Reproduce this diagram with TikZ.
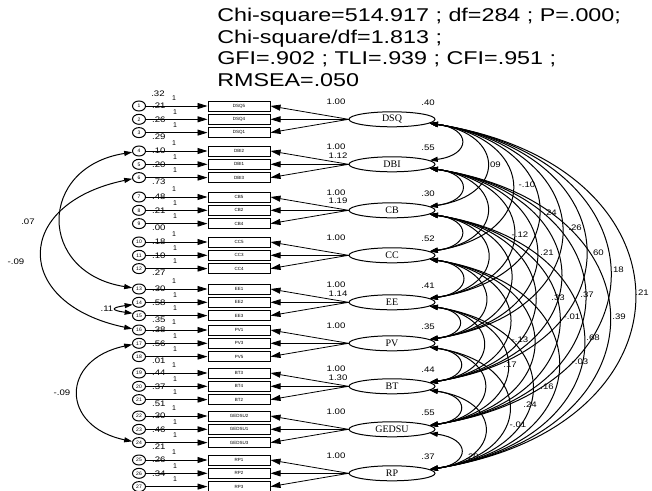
\documentclass[tikz,border=0pt]{standalone}
\usepackage{fontspec}
\setmainfont{Liberation Sans}
\newfontfamily\serifx{Liberation Serif}
\usetikzlibrary{arrows.meta,shapes.geometric}
\begin{document}
\begin{tikzpicture}[x=1pt,y=-1pt,
  lbl/.style={inner sep=0pt, xscale=1.2, font=\fontsize{8}{8}\selectfont},
  one/.style={inner sep=0pt, font=\fontsize{7}{7}\selectfont},
  ind/.style={draw, line width=1pt, minimum width=62pt, minimum height=10pt, inner sep=0pt, font=\fontsize{4.5}{5}\selectfont},
  err/.style={draw, ellipse, line width=1pt, minimum width=13pt, minimum height=10pt, inner sep=0pt, font=\fontsize{5}{5}\selectfont},
  lat/.style={draw, ellipse, line width=1pt, minimum width=86pt, minimum height=15pt, inner sep=0pt, font=\serifx\fontsize{10}{10}\selectfont},
  arr/.style={line width=0.8pt, -{Triangle[length=10pt,width=6pt]}},
  cov/.style={line width=1pt, {Triangle[length=8pt,width=5pt]}-{Triangle[length=8pt,width=5pt]}},
]
\useasboundingbox (0,0) rectangle (652,490);

\node[anchor=north west, align=left, inner sep=0pt, xscale=1.26,
      font=\fontsize{18.5}{21.5}\selectfont] (title) at (217,8)
  {Chi-square=514.917 ; df=284 ; P=.000;\\ Chi-square/df=1.813 ;\\ GFI=.902 ; TLI=.939 ; CFI=.951 ;\\ RMSEA=.050};

\foreach \g/\gy/\ln/\lv/\ba/\bb/\bc/\va/\vb/\vc in {
 0/106/DSQ/.40/DSQ5/DSQ4/DSQ1/.21/.26/.29,
 1/151/DBI/.55/DBI2/DBI1/DBI3/.10/.20/.73,
 2/197/CB/.30/CB5/CB2/CB4/.48/.21/.00,
 3/242/CC/.52/CC5/CC3/CC4/.18/.10/.27,
 4/289/EE/.41/EE1/EE2/EE3/.30/.58/.35,
 5/330/PV/.35/PV1/PV3/PV5/.38/.56/.01,
 6/373/BT/.44/BT3/BT4/BT2/.44/.37/.51,
 7/416/GEDSU/.55/GEDSU2/GEDSU1/GEDSU3/.30/.46/.21,
 8/460/RP/.37/RP1/RP2/RP3/.26/.34/{}}
{
 \pgfmathtruncatemacro\na{3*\g+1}
 \pgfmathtruncatemacro\nb{3*\g+2}
 \pgfmathtruncatemacro\nc{3*\g+3}
 \node[lat] (L\g) at (392,\gy+13.3) {\ln};
 \node[lbl] (LV\g) at (428,\gy-3) {\lv};
 \node[lbl] (LD\g) at (336,\gy-4) {1.00};
 \node[ind] (B\g-1) at (239,\gy) {\ba};
 \node[ind] (B\g-2) at (239,\gy+13.3) {\bb};
 \node[ind] (B\g-3) at (239,\gy+26.6) {\bc};
 \node[err] (E\g-1) at (139,\gy) {\na};
 \node[err] (E\g-2) at (139,\gy+13.3) {\nb};
 \node[err] (E\g-3) at (139,\gy+26.6) {\nc};
 \foreach \r in {1,2,3}{
   \draw[arr] (E\g-\r) -- (B\g-\r);
   \draw[arr] (L\g.west) -- (B\g-\r.east);
 }
 \node[lbl, anchor=west] (V\g-1) at (152,\gy) {\va};
 \node[lbl, anchor=west] (V\g-2) at (152,\gy+13.3) {\vb};
 \node[lbl, anchor=west] (V\g-3) at (152,\gy+31) {\vc};
 \node[one] (O\g-1) at (174,\gy-8) {1};
 \node[one] (O\g-2) at (175,\gy+6) {1};
 \node[one] (O\g-3) at (175,\gy+19) {1};
}
\node[lbl] (V0-0) at (158,94) {.32};

% second loadings (overlapping)
\node[lbl] (LD1b) at (338,156) {1.12};
\node[lbl] (LD2b) at (338,201) {1.19};
\node[lbl] (LD4b) at (338,294) {1.14};
\node[lbl] (LD6b) at (338,378) {1.30};

% covariances between latent factors
\def\LY{{119.3,164.3,210.3,255.3,302.3,343.3,386.3,429.3,473.3}}
\foreach \i in {0,...,7}{
  \pgfmathtruncatemacro\ia{\i+1}
  \foreach \j in {\ia,...,8}{
    \pgfmathsetmacro\sp{\LY[\j]-\LY[\i]}
    \pgfmathsetmacro\cc{(0.56*\sp+6)/0.75}
    \pgfmathsetmacro\ss{0.12*\sp}
    \draw[cov] (L\i.-6) .. controls +(\cc,\ss) and +(\cc,-\ss) .. (L\j.6);
  }
}

% correlation labels
\foreach \t/\x/\y [count=\k] in {
 .09/494/165, -.10/527/185, .24/550/213, .26/575/228, -.12/520/235,
 .21/547/253, .60/597/253, .18/617/270, .21/642/293, .33/558/298,
 .37/587/295, -.01/572/317, .39/619/317, -.13/520/340, .68/593/338,
 .17/510/365, -.03/580/362, .16/547/387, .24/530/405, -.01/518/425,
 .20/472/457}
 \node[lbl] (C\k) at (\x,\y) {\t};

% error covariances
\draw[cov] (E1-1.190) .. controls +(-95,15) and +(-95,-15) .. (E4-1.170);
\node[lbl] (EC1) at (28,222) {.07};
\draw[cov] (E1-3.190) .. controls +(-120,25) and +(-120,-25) .. (E5-1.170);
\node[lbl] (EC2) at (16,262) {-.09};
\draw[cov] (E4-2.200) .. controls +(-22,3) and +(-22,-3) .. (E4-3.160);
\node[lbl] (EC3) at (107,309) {.11};
\draw[cov] (E5-2.190) .. controls +(-72,15) and +(-72,-15) .. (E7-3.170);
\node[lbl] (EC4) at (62,393) {-.09};
\end{tikzpicture}
\end{document}
